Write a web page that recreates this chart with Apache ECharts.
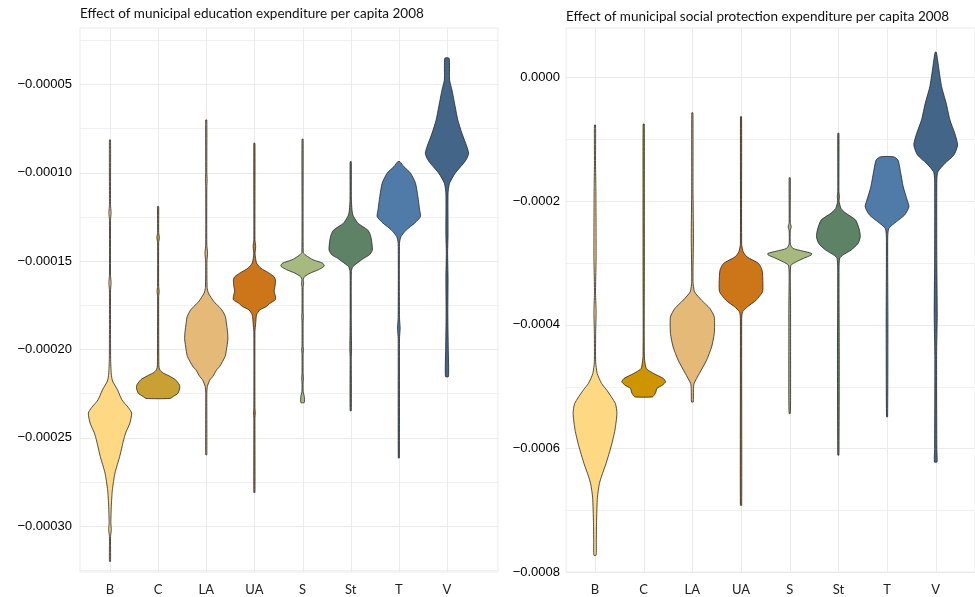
<!DOCTYPE html>
<html>
<head>
<meta charset="utf-8">
<script src="https://cdn.jsdelivr.net/npm/echarts@6/dist/echarts.min.js"></script>
<style>
  html, body { margin: 0; padding: 0; background: #fff; }
  #main { width: 975px; height: 597px; }
</style>
</head>
<body>
<div id="main"></div>
<script>
// municipality types
var categories = ['B', 'C', 'LA', 'UA', 'S', 'St', 'T', 'V'];
var fillColors = ['#FED882', '#C9A033', '#E5B978', '#CD7519', '#A8B97F', '#5E8266', '#507AA8', '#436688'];
var fillColors2 = ['#FED882', '#CE9500', '#E5B978', '#CD7519', '#A8B97F', '#5E8266', '#507AA8', '#436688'];

// violin outlines: [value, relative half width]
var eduB = [[-8.15e-5, 0.025], [-11.8e-5, 0.025], [-12.28e-5, 0.05], [-12.7e-5, 0.025], [-15.8e-5, 0.025], [-16.24e-5, 0.05], [-16.7e-5, 0.025],
  [-20.5e-5, 0.03], [-21.4e-5, 0.06], [-21.8e-5, 0.12], [-22.3e-5, 0.35], [-22.86e-5, 0.55], [-23.3e-5, 0.85], [-23.61e-5, 1.0],
  [-24.17e-5, 0.92], [-24.74e-5, 0.72], [-25.12e-5, 0.63], [-26.06e-5, 0.45], [-27.0e-5, 0.23], [-27.95e-5, 0.11], [-28.89e-5, 0.06],
  [-29.81e-5, 0.04], [-30.21e-5, 0.06], [-30.6e-5, 0.025], [-32.0e-5, 0.025]];
var eduC = [[-11.92e-5, 0.025], [-13.4e-5, 0.025], [-13.68e-5, 0.06], [-13.95e-5, 0.025], [-16.45e-5, 0.025], [-16.73e-5, 0.05], [-17.0e-5, 0.025],
  [-20.41e-5, 0.03], [-21.0e-5, 0.04], [-21.2e-5, 0.1], [-21.35e-5, 0.25], [-21.5e-5, 0.5], [-21.72e-5, 0.8], [-22.01e-5, 0.98],
  [-22.19e-5, 1.0], [-22.48e-5, 0.92], [-22.65e-5, 0.72], [-22.78e-5, 0.55]];
var eduLA = [[-7.02e-5, 0.025], [-10.0e-5, 0.025], [-10.41e-5, 0.04], [-10.8e-5, 0.025], [-14.1e-5, 0.025], [-14.56e-5, 0.06], [-15.0e-5, 0.03],
  [-16.5e-5, 0.04], [-16.82e-5, 0.1], [-17.3e-5, 0.35], [-17.58e-5, 0.58], [-17.77e-5, 0.72], [-18.14e-5, 0.88], [-18.52e-5, 0.93],
  [-19.0e-5, 0.98], [-19.4e-5, 1.0], [-20.03e-5, 0.93], [-20.41e-5, 0.87], [-20.97e-5, 0.62], [-21.16e-5, 0.48], [-21.54e-5, 0.3],
  [-21.73e-5, 0.17], [-22.1e-5, 0.05], [-22.5e-5, 0.025], [-25.97e-5, 0.025]];
var eduUA = [[-8.34e-5, 0.025], [-13.8e-5, 0.025], [-14.19e-5, 0.06], [-14.6e-5, 0.03], [-15.12e-5, 0.1], [-15.41e-5, 0.3], [-15.69e-5, 0.68],
  [-15.88e-5, 0.9], [-16.07e-5, 0.97], [-16.45e-5, 0.95], [-16.7e-5, 0.91], [-17.0e-5, 0.97], [-17.2e-5, 0.97], [-17.39e-5, 0.72],
  [-17.58e-5, 0.55], [-17.77e-5, 0.25], [-18.05e-5, 0.1], [-18.52e-5, 0.06], [-19.0e-5, 0.025], [-23.3e-5, 0.025], [-23.6e-5, 0.04],
  [-23.9e-5, 0.025], [-28.1e-5, 0.025]];
var eduS = [[-8.11e-5, 0.025], [-14.5e-5, 0.03], [-14.65e-5, 0.12], [-14.84e-5, 0.35], [-14.94e-5, 0.5], [-15.12e-5, 0.92], [-15.25e-5, 1.0],
  [-15.32e-5, 0.98], [-15.5e-5, 0.73], [-15.69e-5, 0.35], [-15.88e-5, 0.1], [-16.05e-5, 0.03], [-16.26e-5, 0.05], [-16.5e-5, 0.025],
  [-17.9e-5, 0.025], [-18.14e-5, 0.04], [-18.4e-5, 0.025], [-19.8e-5, 0.025], [-20.03e-5, 0.04], [-20.3e-5, 0.025], [-21.4e-5, 0.025],
  [-21.63e-5, 0.04], [-21.9e-5, 0.025], [-22.4e-5, 0.03], [-22.67e-5, 0.08], [-23.01e-5, 0.08]];
var eduSt = [[-9.38e-5, 0.025], [-11.5e-5, 0.03], [-12.11e-5, 0.06], [-12.4e-5, 0.1], [-12.58e-5, 0.18], [-12.86e-5, 0.33], [-13.24e-5, 0.78],
  [-13.5e-5, 0.9], [-13.81e-5, 0.96], [-14.38e-5, 1.0], [-14.65e-5, 0.87], [-14.85e-5, 0.6], [-15.03e-5, 0.4], [-15.32e-5, 0.1],
  [-15.6e-5, 0.03], [-18.0e-5, 0.025], [-19.0e-5, 0.03], [-20.0e-5, 0.04], [-20.5e-5, 0.025], [-21.5e-5, 0.03], [-23.48e-5, 0.025]];
var eduT = [[-9.38e-5, 0.05], [-9.66e-5, 0.23], [-10.03e-5, 0.54], [-10.6e-5, 0.77], [-11.36e-5, 0.88], [-12.11e-5, 0.96], [-12.49e-5, 1.0],
  [-12.86e-5, 0.73], [-13.24e-5, 0.35], [-13.62e-5, 0.1], [-14.0e-5, 0.03], [-18.2e-5, 0.03], [-18.8e-5, 0.06], [-19.4e-5, 0.03],
  [-26.15e-5, 0.025]];
var eduV = [[-3.53e-5, 0.1], [-4.76e-5, 0.12], [-5.32e-5, 0.23], [-6.27e-5, 0.38], [-7.02e-5, 0.5], [-7.77e-5, 0.69], [-8.53e-5, 0.92],
  [-8.9e-5, 1.0], [-9.2e-5, 0.92], [-9.47e-5, 0.77], [-10.03e-5, 0.38], [-10.6e-5, 0.12], [-11.16e-5, 0.05], [-13.5e-5, 0.05],
  [-14.5e-5, 0.03], [-16.0e-5, 0.05], [-18.0e-5, 0.04], [-20.0e-5, 0.06], [-21.54e-5, 0.07]];

var socB = [[-0.772e-4, 0.025], [-1.4e-4, 0.025], [-1.8e-4, 0.04], [-2.9e-4, 0.05], [-3.3e-4, 0.03], [-3.5e-4, 0.025], [-3.8e-4, 0.05],
  [-4.14e-4, 0.03], [-4.6e-4, 0.03], [-4.79e-4, 0.1], [-4.95e-4, 0.3], [-5.06e-4, 0.54], [-5.275e-4, 0.93], [-5.437e-4, 1.0],
  [-5.707e-4, 0.91], [-5.95e-4, 0.75], [-6.25e-4, 0.5], [-6.45e-4, 0.3], [-6.57e-4, 0.2], [-6.79e-4, 0.11], [-7.2e-4, 0.07],
  [-7.5e-4, 0.06], [-7.73e-4, 0.05]];
var socC = [[-0.756e-4, 0.025], [-1.8e-4, 0.03], [-2.5e-4, 0.03], [-3.0e-4, 0.03], [-4.5e-4, 0.03], [-4.709e-4, 0.12], [-4.79e-4, 0.46],
  [-4.87e-4, 0.9], [-4.925e-4, 1.0], [-4.979e-4, 0.85], [-5.032e-4, 0.6], [-5.087e-4, 0.56], [-5.13e-4, 0.5], [-5.168e-4, 0.4]];
var socLA = [[-0.573e-4, 0.025], [-1.8e-4, 0.03], [-2.6e-4, 0.05], [-3.3e-4, 0.03], [-3.469e-4, 0.1], [-3.604e-4, 0.42], [-3.738e-4, 0.8],
  [-3.874e-4, 1.0], [-4.142e-4, 1.0], [-4.359e-4, 0.88], [-4.574e-4, 0.65], [-4.79e-4, 0.32], [-4.95e-4, 0.08], [-5.05e-4, 0.05],
  [-5.25e-4, 0.04]];
var socUA = [[-0.637e-4, 0.025], [-2.7e-4, 0.03], [-2.822e-4, 0.1], [-2.903e-4, 0.27], [-3.01e-4, 0.8], [-3.118e-4, 0.96], [-3.333e-4, 1.0],
  [-3.469e-4, 0.98], [-3.604e-4, 0.69], [-3.712e-4, 0.29], [-3.793e-4, 0.07], [-3.9e-4, 0.03], [-6.92e-4, 0.03]];
var socS = [[-1.625e-4, 0.025], [-2.35e-4, 0.025], [-2.417e-4, 0.07], [-2.48e-4, 0.025], [-2.7e-4, 0.03], [-2.767e-4, 0.15], [-2.81e-4, 0.6],
  [-2.848e-4, 1.0], [-2.875e-4, 0.98], [-2.929e-4, 0.62], [-2.984e-4, 0.3], [-3.037e-4, 0.06], [-3.2e-4, 0.025], [-3.712e-4, 0.04],
  [-4.223e-4, 0.04], [-5.221e-4, 0.04], [-5.437e-4, 0.025]];
var socSt = [[-0.906e-4, 0.025], [-1.85e-4, 0.025], [-1.932e-4, 0.05], [-2.0e-4, 0.03], [-2.12e-4, 0.12], [-2.2e-4, 0.35], [-2.309e-4, 0.79],
  [-2.47e-4, 0.96], [-2.579e-4, 1.0], [-2.686e-4, 0.9], [-2.794e-4, 0.58], [-2.875e-4, 0.2], [-2.929e-4, 0.06], [-3.1e-4, 0.03],
  [-4.5e-4, 0.04], [-6.11e-4, 0.025]];
var socT = [[-1.285e-4, 0.3], [-1.338e-4, 0.5], [-1.5e-4, 0.6], [-1.77e-4, 0.74], [-1.985e-4, 0.92], [-2.094e-4, 1.0], [-2.228e-4, 0.8],
  [-2.337e-4, 0.42], [-2.443e-4, 0.08], [-2.6e-4, 0.03], [-4.0e-4, 0.04], [-5.49e-4, 0.025]];
var socV = [[0.405e-4, 0.03], [0.118e-4, 0.15], [-0.152e-4, 0.27], [-0.421e-4, 0.48], [-0.691e-4, 0.65], [-0.906e-4, 0.87], [-1.095e-4, 1.0],
  [-1.257e-4, 0.83], [-1.392e-4, 0.42], [-1.527e-4, 0.1], [-1.662e-4, 0.05], [-3.0e-4, 0.05], [-3.82e-4, 0.07], [-4.5e-4, 0.04],
  [-6.0e-4, 0.05], [-6.22e-4, 0.06]];

var eduViolins = [eduB, eduC, eduLA, eduUA, eduS, eduSt, eduT, eduV];
var socViolins = [socB, socC, socLA, socUA, socS, socSt, socT, socV];

// tick labels and grid lines
var eduTicks = [-0.0003, -0.00025, -0.0002, -0.00015, -0.0001, -0.00005];
var eduMinor = [-0.000325, -0.000275, -0.000225, -0.000175, -0.000125, -0.000075, -0.000025];
var socTicks = [-0.0008, -0.0006, -0.0004, -0.0002, 0];
var socMinor = [-0.0007, -0.0005, -0.0003, -0.0001];

var halfWidth = 0.45;
var catPos = categories.map(function (c, i) { return i + 1; });

function minusFmt(digits) {
  return function (v) {
    var s = Math.abs(v).toFixed(digits);
    return v < -1e-12 ? '\u2212' + s : s;
  };
}

function violinSeries(idx, profiles, colors) {
  return {
    type: 'custom',
    xAxisIndex: idx, yAxisIndex: idx,
    z: 3,
    encode: { x: 0, y: [1, 2] },
    data: profiles.map(function (p, i) {
      return { value: [i + 1, p[0][0], p[p.length - 1][0]], itemStyle: { color: colors[i] } };
    }),
    renderItem: function (params, api) {
      var prof = profiles[params.dataIndex];
      var x = api.value(0);
      var right = [], left = [];
      prof.forEach(function (p) {
        right.push(api.coord([x + p[1] * halfWidth, p[0]]));
        left.push(api.coord([x - p[1] * halfWidth, p[0]]));
      });
      return {
        type: 'polygon',
        shape: { points: right.concat(left.reverse()), smooth: 0.2 },
        style: { fill: api.visual('color'), stroke: '#262626', lineWidth: 0.8 }
      };
    }
  };
}

function hGrid(idx, values, color) {
  return {
    type: 'custom', xAxisIndex: idx, yAxisIndex: idx, z: 1, silent: true,
    encode: { x: 0, y: 1 },
    data: values.map(function (v) { return [1, v]; }),
    renderItem: function (params, api) {
      var cs = params.coordSys;
      var y = Math.round(api.coord([1, api.value(1)])[1]) + 0.5;
      return { type: 'line', shape: { x1: cs.x, y1: y, x2: cs.x + cs.width, y2: y },
        style: { stroke: color, lineWidth: 1 } };
    }
  };
}

function vGrid(idx, yRef) {
  return {
    type: 'custom', xAxisIndex: idx, yAxisIndex: idx, z: 1, silent: true,
    encode: { x: 0, y: 1 },
    data: catPos.map(function (v) { return [v, yRef]; }),
    renderItem: function (params, api) {
      var cs = params.coordSys;
      var x = Math.round(api.coord([api.value(0), yRef])[0]) + 0.5;
      return { type: 'line', shape: { x1: x, y1: cs.y, x2: x, y2: cs.y + cs.height },
        style: { stroke: '#ebebeb', lineWidth: 1 } };
    }
  };
}

var xLabel = {
  customValues: catPos,
  formatter: function (v) { return categories[Math.round(v) - 1]; },
  fontFamily: 'Lato', fontSize: 13, color: '#222', margin: 11
};

var chart = echarts.init(document.getElementById('main'), null, { renderer: 'canvas' });
chart.setOption({
  animation: false,
  backgroundColor: '#fff',
  title: [
    { text: 'Effect of municipal education expenditure per capita 2008', left: 75, top: 2,
      textStyle: { fontFamily: 'Lato', fontSize: 13.5, fontWeight: 'normal', color: '#111' } },
    { text: 'Effect of municipal social protection expenditure per capita 2008', left: 561, top: 5,
      textStyle: { fontFamily: 'Lato', fontSize: 13.5, fontWeight: 'normal', color: '#111' } }
  ],
  grid: [
    { left: 80, top: 28, width: 418, height: 544, show: true, borderColor: '#ebebeb', borderWidth: 1 },
    { left: 566, top: 28, width: 409, height: 544, show: true, borderColor: '#ebebeb', borderWidth: 1 }
  ],
  xAxis: [
    { type: 'value', gridIndex: 0, min: 0.377, max: 9.06, axisLine: { show: false }, axisTick: { show: false },
      splitLine: { show: false }, axisLabel: xLabel },
    { type: 'value', gridIndex: 1, min: 0.404, max: 8.807, axisLine: { show: false }, axisTick: { show: false },
      splitLine: { show: false }, axisLabel: xLabel }
  ],
  yAxis: [
    { type: 'value', gridIndex: 0, min: -0.00032602, max: -0.00001816, axisLine: { show: false }, axisTick: { show: false },
      splitLine: { show: false },
      axisLabel: { customValues: eduTicks, formatter: minusFmt(5), fontFamily: 'Liberation Sans', fontSize: 13, color: '#000', margin: 8 } },
    { type: 'value', gridIndex: 1, min: -0.0008, max: 0.0000798, axisLine: { show: false }, axisTick: { show: false },
      splitLine: { show: false },
      axisLabel: { customValues: socTicks, formatter: minusFmt(4), fontFamily: 'Liberation Sans', fontSize: 13, color: '#000', margin: 6 } }
  ],
  series: [
    hGrid(0, eduMinor, '#f0f0f0'), hGrid(0, eduTicks, '#ebebeb'), vGrid(0, -0.0002),
    hGrid(1, socMinor, '#f0f0f0'), hGrid(1, socTicks, '#ebebeb'), vGrid(1, -0.0004),
    violinSeries(0, eduViolins, fillColors),
    violinSeries(1, socViolins, fillColors2)
  ]
});
</script>
</body>
</html>
